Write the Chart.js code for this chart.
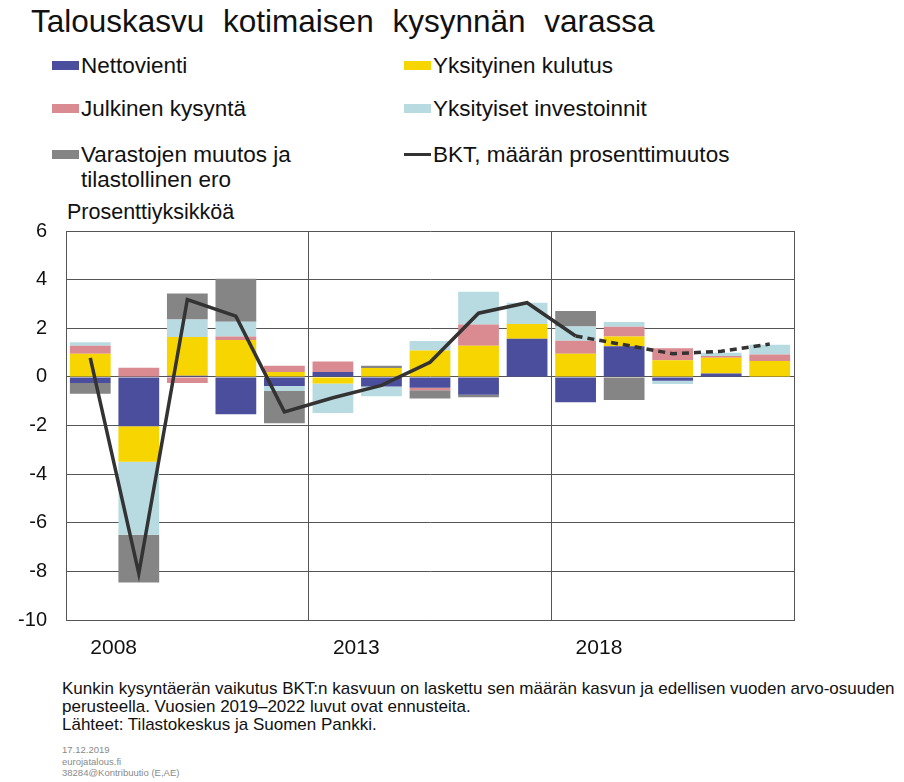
<!DOCTYPE html>
<html>
<head>
<meta charset="utf-8">
<script src="https://cdn.jsdelivr.net/npm/chart.js@4.4.1/dist/chart.umd.min.js"></script>
<style>
  body { margin:0; background:#fff; font-family:"Liberation Sans", Arial, sans-serif; color:#111; }
  #wrap { position:relative; width:904px; height:782px; overflow:hidden; }
  #title { position:absolute; left:31px; top:3px; font-size:31.5px; word-spacing:10px; white-space:nowrap; }
  .leg { position:absolute; font-size:22.5px; line-height:25px; white-space:nowrap; }
  .sw { position:absolute; left:0; top:8px; width:27px; height:9px; }
  .leg span.t { display:block; padding-left:29px; }
  #unit { position:absolute; left:67px; top:200px; font-size:21.5px; }
  #box { position:absolute; left:0; top:200px; width:820px; height:470px; }
  #notes { position:absolute; left:62px; top:680px; font-size:17px; line-height:18px; }
  #src { position:absolute; left:62px; top:744px; font-size:9.5px; line-height:11.5px; color:#8a8a8a; }
</style>
</head>
<body>
<div id="wrap">
  <div id="title">Talouskasvu kotimaisen kysynnän varassa</div>
  <div id="legend"></div>
  <div id="unit">Prosenttiyksikköä</div>
  <div id="box"><canvas id="myChart" width="820" height="470"></canvas></div>
  <div id="notes">Kunkin kysyntäerän vaikutus BKT:n kasvuun on laskettu sen määrän kasvun ja edellisen vuoden arvo-osuuden<br>perusteella. Vuosien 2019–2022 luvut ovat ennusteita.<br>Lähteet: Tilastokeskus ja Suomen Pankki.</div>
  <div id="src">17.12.2019<br>eurojatalous.fi<br>38284@Kontribuutio (E,AE)</div>
</div>
<script>
// vuodet
const vuodet = ['2008','2009','2010','2011','2012','2013','2014','2015','2016','2017','2018','2019','2020','2021','2022'];
const yTicks = [-10, -8, -6, -4, -2, 0, 2, 4, 6];

// kysyntäerien vaikutus, %-yks.
const nettovienti   = [-0.25, -2.03, 0.05, -1.54, -0.38, 0.20, -0.40, -0.45, -0.74, 1.57, -1.04, 1.26, -0.16, 0.14, 0];
const yksKulutus    = [0.95, -1.46, 1.59, 1.52, 0.20, -0.27, 0.36, 1.08, 1.28, 0.60, 0.95, 0.40, 0.68, 0.65, 0.65];
const julkinen      = [0.33, 0.38, -0.25, 0.14, 0.26, 0.43, 0, -0.10, 0.87, 0, 0.54, 0.40, 0.50, 0.07, 0.27];
const investoinnit  = [0.14, -3.00, 0.72, 0.61, -0.20, -1.22, -0.40, 0.40, 1.35, 0.88, 0.58, 0.20, -0.13, 0.13, 0.40];
const varastot      = [-0.44, -1.97, 1.07, 1.77, -1.33, 0, 0.10, -0.34, -0.10, 0, 0.64, -0.95, 0, 0, 0];
const bkt           = [0.78, -8.08, 3.18, 2.50, -1.44, -0.86, -0.35, 0.60, 2.62, 3.05, 1.68, 1.32, 0.95, 1.05, 1.35];
const ennusteAlkaa = 10; // 2018 -> katkoviiva

const sarjat = [
  {label:'Nettovienti', data:nettovienti, color:'#4b4e9c'},
  {label:'Yksityinen kulutus', data:yksKulutus, color:'#f6d500'},
  {label:'Julkinen kysyntä', data:julkinen, color:'#da8a91'},
  {label:'Yksityiset investoinnit', data:investoinnit, color:'#b8dbe1'},
  {label:'Varastojen muutos ja\ntilastollinen ero', data:varastot, color:'#858585'}
];

// legenda (2 saraketta)
const legPos = [[52,53],[404,53],[52,96],[404,96],[52,142]];
let html = '';
sarjat.forEach(function(s, i){
  html += '<div class="leg" style="left:'+legPos[i][0]+'px;top:'+legPos[i][1]+'px"><div class="sw" style="background:'+s.color+'"></div><span class="t">'+s.label.replace('\n','<br>')+'</span></div>';
});
html += '<div class="leg" style="left:404px;top:142px"><div class="sw" style="background:#333;height:3px;top:11px"></div><span class="t">BKT, määrän prosenttimuutos</span></div>';
document.getElementById('legend').innerHTML = html;

const datasets = sarjat.map(function(s){
  return {
    type:'bar',
    label:s.label,
    data:s.data,
    backgroundColor:s.color,
    borderWidth:0,
    order:1,
    barPercentage:0.84,
    categoryPercentage:1
  };
});
datasets.push({
  type:'line',
  label:'BKT, määrän prosenttimuutos',
  data:bkt,
  borderColor:'#333',
  borderWidth:3.5,
  pointRadius:0,
  tension:0,
  order:0,
  segment:{
    borderDash: ctx => ctx.p0DataIndex >= ennusteAlkaa ? [7,5] : []
  }
});

const gridCol = '#555';
const myChart = new Chart(document.getElementById('myChart'), {
  data:{ labels:vuodet, datasets:datasets },
  options:{
    responsive:false,
    animation:false,
    layout:{ padding:{ top:27, right:26, left:0, bottom:0 } },
    plugins:{ legend:{display:false}, tooltip:{enabled:false} },
    scales:{
      x:{
        stacked:true,
        offset:true,
        grid:{
          offset:true,
          drawTicks:false,
          color: ctx => (ctx.index === undefined || ctx.index % 5 === 0) ? gridCol : 'rgba(0,0,0,0)',
          lineWidth:1
        },
        border:{ display:true, color:gridCol, width:1 },
        ticks:{
          autoSkip:false, maxRotation:0, align:'start', padding:16,
          color:'#111', font:{ family:'"Liberation Sans", Arial, sans-serif', size:21 },
          callback:function(v, i){ return i % 5 === 0 ? vuodet[i] : ''; }
        },
        afterFit:function(s){ s.height = 50; }
      },
      y:{
        stacked:true,
        min:-10, max:6,
        afterBuildTicks:function(s){ s.ticks = yTicks.map(v => ({value:v})); },
        grid:{ drawTicks:false, color:gridCol, lineWidth:1 },
        border:{ display:true, color:gridCol, width:1 },
        ticks:{
          padding:19, color:'#111',
          font:{ family:'"Liberation Sans", Arial, sans-serif', size:20 }
        },
        afterFit:function(s){ s.width = 66; }
      }
    }
  }
});
</script>
</body>
</html>
